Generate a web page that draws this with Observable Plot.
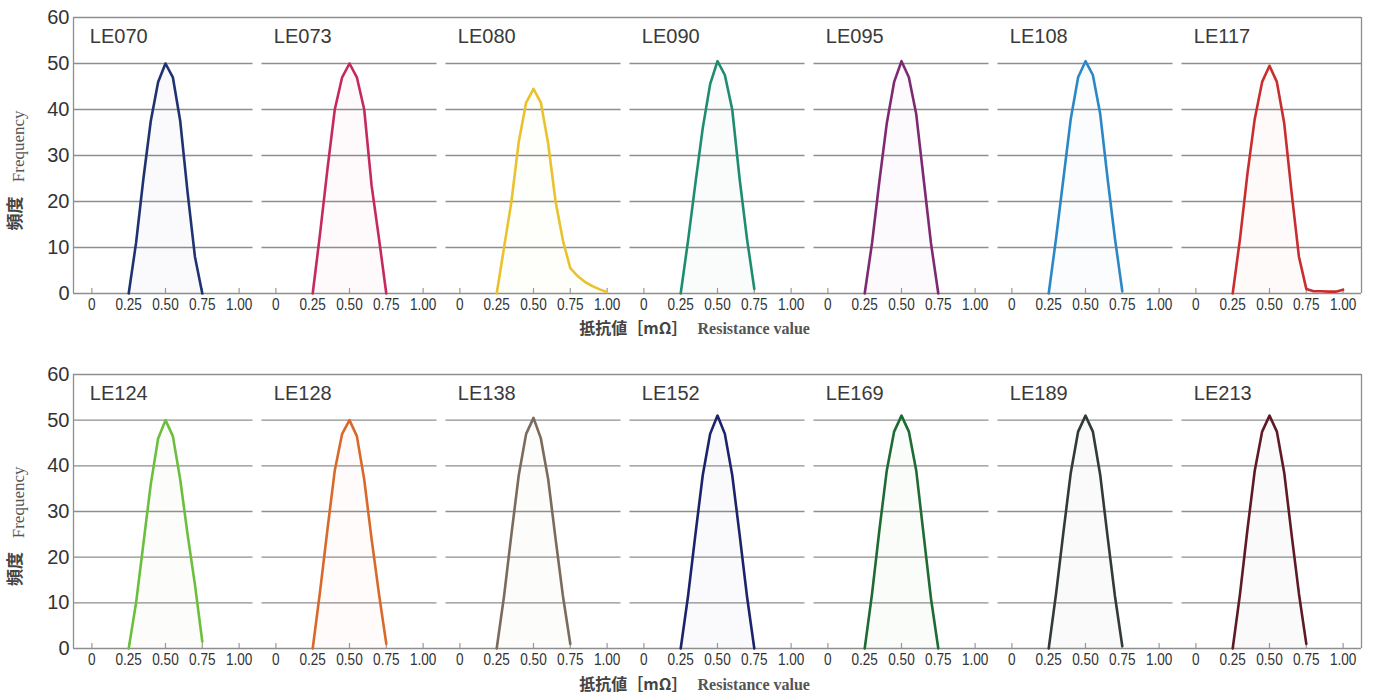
<!DOCTYPE html>
<html><head><meta charset="utf-8">
<script src="https://cdn.jsdelivr.net/npm/d3@7"></script>
<script src="https://cdn.jsdelivr.net/npm/@observablehq/plot@0.6"></script>
<style>
body{margin:0;background:#fff;}
#chart svg{display:block;}
</style></head><body><div id="chart"></div>
<script>
// ---- data ----
const xValues = [0.25, 0.30, 0.35, 0.40, 0.45, 0.50, 0.55, 0.60, 0.65, 0.70, 0.75, 0.80, 0.85, 0.90, 0.95, 1.00];
const row1Labels = ["LE070", "LE073", "LE080", "LE090", "LE095", "LE108", "LE117"];
const row2Labels = ["LE124", "LE128", "LE138", "LE152", "LE169", "LE189", "LE213"];

const LE070 = [0, 11, 25, 37.5, 46, 50, 47, 37.5, 22, 8, 0];
const LE073 = [0, 13, 27, 40, 47, 50, 47, 40, 23.5, 12, 0];
const LE080 = [0, 10, 20, 33, 41.5, 44.5, 41.5, 32.5, 20, 11.5, 5.5, 3.8, 2.5, 1.6, 0.9, 0.3];
const LE090 = [0, 11.5, 24, 36, 45.5, 50.5, 47.5, 40, 25, 12, 1];
const LE095 = [0, 11, 24.5, 37, 46, 50.5, 47, 39, 25, 11, 0];
const LE108 = [0, 12, 25, 38, 47, 50.5, 47.5, 39, 25, 12, 0.5];
const LE117 = [0, 12, 26, 38, 46, 49.5, 46, 37, 22, 8, 1, 0.5, 0.5, 0.4, 0.4, 0.8];
const LE124 = [0, 10, 23, 36, 46, 50, 46.5, 37, 25, 14, 1.5];
const LE128 = [0, 12.5, 26, 39, 47, 50, 46.5, 37, 24, 12, 1];
const LE138 = [0, 11.5, 25, 38, 47, 50.5, 46, 37, 24, 11.5, 1];
const LE152 = [0, 11.5, 25, 38, 47, 51, 47, 38, 25, 11.5, 0];
const LE169 = [0, 12, 26, 39, 47.5, 51, 47.5, 39, 25, 11, 0];
const LE189 = [0, 12, 25.5, 38.5, 47.5, 51, 47.5, 38, 24.5, 11.5, 0.5];
const LE213 = [0, 12, 26, 39, 47.5, 51, 47.5, 38.5, 25, 12, 1];

const seriesValues = {LE070, LE073, LE080, LE090, LE095, LE108, LE117,
                      LE124, LE128, LE138, LE152, LE169, LE189, LE213};

const lineColors = {
  LE070: "#1f3372", LE073: "#c42a5c", LE080: "#e9c22e", LE090: "#1e8c6e",
  LE095: "#7e2a72", LE108: "#2b87c6", LE117: "#c82e30",
  LE124: "#6cbf3c", LE128: "#d9692a", LE138: "#7b6b5c", LE152: "#1c236b",
  LE169: "#1f6b34", LE189: "#323a3a", LE213: "#5e1a26"
};

const yTicks = [0, 10, 20, 30, 40, 50, 60];
const xTicks = [0, 0.25, 0.5, 0.75, 1];
const xTickLabels = ["0", "0.25", "0.50", "0.75", "1.00"];
const xDomain = [-0.125, 1.125];
const yDomain = [0, 60];
const yLabelJa = "頻度", yLabelEn = "Frequency";
const xLabelJa = "抵抗値［mΩ］", xLabelEn = "Resistance value";

const gridColor = "#8e8e8e";
const cjk = "'Noto Sans CJK JP', 'Noto Sans CJK SC', sans-serif";
const serif = "'Liberation Serif', 'DejaVu Serif', serif";

function rowChart(labels, {height, marginTop, marginBottom, labelDy}) {
  const rows = labels.flatMap(label =>
    seriesValues[label].map((y, i) => ({label, x: xValues[i], y, color: lineColors[label]})));
  const last = labels.length - 1;
  const grid = labels.flatMap((label, i) => yTicks.slice(1, -1).map(y => ({label, y, i})));
  const firstFacet = [{label: labels[0]}];
  const lastFacet = [{label: labels[last]}];
  const midFacet = [{label: labels[3]}];
  const gl = {fx: "label", y: "y", stroke: gridColor, strokeWidth: 1.3};
  const svg = Plot.plot({
    width: 1379, height, marginTop, marginBottom, marginLeft: 72, marginRight: 17,
    style: {fontFamily: "'Liberation Sans', Arial, sans-serif", background: "#fff"},
    fx: {domain: labels, padding: 0, axis: null, label: null},
    x: {domain: xDomain},
    y: {domain: yDomain},
    color: {type: "identity"},
    marks: [
      Plot.ruleY(grid, {...gl, filter: d => d.i === 0, insetRight: 4.5}),
      Plot.ruleY(grid, {...gl, filter: d => d.i > 0 && d.i < last, insetLeft: 4.5, insetRight: 4.5}),
      Plot.ruleY(grid, {...gl, filter: d => d.i === last, insetLeft: 4.5}),
      Plot.ruleY(yDomain, {stroke: gridColor, strokeWidth: 1.3}),
      Plot.ruleX(firstFacet, {fx: "label", x: xDomain[0], stroke: gridColor, strokeWidth: 1.3}),
      Plot.ruleX(lastFacet, {fx: "label", x: xDomain[1], stroke: gridColor, strokeWidth: 1.3}),
      Plot.ruleX(xTicks, {x: d => d, y1: 0, y2: 1.1, stroke: "#999", strokeWidth: 1.2}),
      Plot.areaY(rows, {fx: "label", x: "x", y: "y", fill: "color", fillOpacity: 0.025}),
      Plot.line(rows, {fx: "label", x: "x", y: "y", stroke: "color", strokeWidth: 2.6, strokeLinejoin: "round"}),
      Plot.text(labels.map(label => ({label})), {fx: "label", text: "label", x: -0.014, y: 55.9,
        textAnchor: "start", fontSize: 20, fill: "#3a3a3a"}),
      Plot.axisY({ticks: yTicks, tickSize: 0, tickPadding: 4, fontSize: 20, fill: "#333", label: null}),
      Plot.axisX({ticks: xTicks, tickFormat: (d, i) => xTickLabels[i], tickSize: 0, tickPadding: 5,
        fontSize: 16, fill: "#333", label: null}),
      Plot.text(firstFacet, {fx: "label", text: () => yLabelJa, frameAnchor: "left", dx: -58, y: 17.4,
        textAnchor: "middle", rotate: -90, fontSize: 17, fontWeight: "bold", fontFamily: cjk, fill: "#444"}),
      Plot.text(firstFacet, {fx: "label", text: () => yLabelEn, frameAnchor: "left", dx: -55, y: 32,
        textAnchor: "middle", rotate: -90, fontSize: 17, fontFamily: serif, fill: "#555"}),
      Plot.text(midFacet, {fx: "label", text: () => xLabelJa, frameAnchor: "bottom-left", dx: 62, dy: labelDy,
        textAnchor: "end", fontSize: 16, fontWeight: "bold", fontFamily: cjk, fill: "#444"}),
      Plot.text(midFacet, {fx: "label", text: () => xLabelEn, frameAnchor: "bottom-left", dx: 72, dy: labelDy,
        textAnchor: "start", fontSize: 16, fontWeight: "bold", fontFamily: serif, fill: "#555"})
    ]
  });
  // condense the x tick labels horizontally, like the reference's narrow digits
  d3.select(svg).selectAll('g[aria-label="x-axis tick label"] text').each(function() {
    const t = this.getAttribute("transform");
    if (t) this.setAttribute("transform", t + " scale(0.85,1)");
    else {
      const x = +this.getAttribute("x") || 0, y = +this.getAttribute("y") || 0;
      this.removeAttribute("x"); this.removeAttribute("y");
      this.setAttribute("transform", `translate(${x},${y}) scale(0.85,1)`);
    }
  });
  return svg;
}

const el = document.getElementById("chart");
el.append(rowChart(row1Labels, {height: 348, marginTop: 17, marginBottom: 55, labelDy: 40}));
el.append(rowChart(row2Labels, {height: 350, marginTop: 26, marginBottom: 50, labelDy: 41}));
</script>
</body></html>
